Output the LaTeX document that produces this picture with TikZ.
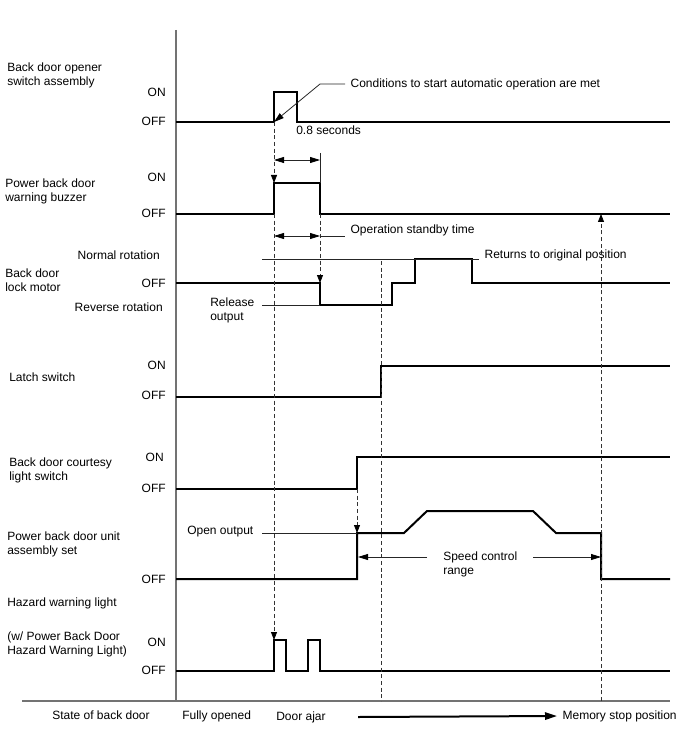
\documentclass[tikz,border=0pt]{standalone}
\usepackage{fontspec}
\setmainfont{Liberation Sans}
\usetikzlibrary{arrows.meta}
\begin{document}
\begin{tikzpicture}[x=0.75pt,y=-0.75pt,
  font=\fontsize{9}{10.5}\selectfont,
  sig/.style={line width=1.5pt, line join=miter},
  thinln/.style={line width=0.6pt, black!85},
  guide/.style={line width=0.6pt, black!80, dash pattern=on 3pt off 2pt},
  tipend/.style={-{Triangle[length=6pt,width=4.5pt,color=black]}},
  diment/.style={-{Triangle[length=7.5pt,width=4.5pt,color=black]}},
  tipboth/.style={{Triangle[length=7.5pt,width=4.5pt,color=black]}-{Triangle[length=7.5pt,width=4.5pt,color=black]}},
  lbl/.style={inner sep=0pt, anchor=west, align=left},
  lvl/.style={inner sep=0pt, anchor=east},
  ann/.style={inner ysep=0pt, inner xsep=4pt, anchor=west, align=left}]
\useasboundingbox (0,0) rectangle (688,755);

% axes
\draw[line width=0.8pt, black!55] (176,30) coordinate (axtop) -- (176,701) coordinate (axbot);
\draw[line width=0.8pt, black!55] (22,701) coordinate (blL) -- (670,701) coordinate (blR);

% left labels
\node[lbl] (l1) at (7,75.5) {Back door opener\\switch assembly};
\node[lbl] (l2) at (5,191) {Power back door\\warning buzzer};
\node[lbl] (l3) at (5,280) {Back door\\lock motor};
\node[lbl] (l4) at (9,377) {Latch switch};
\node[lbl] (l5) at (9,470) {Back door courtesy\\light switch};
\node[lbl] (l6) at (7,544) {Power back door unit\\assembly set};
\node[lbl] (l7) at (7,603) {Hazard warning light};
\node[lbl] (l8) at (7,644) {(w/ Power Back Door\\Hazard Warning Light)};
\node[lbl] (l9) at (52,715) {State of back door};

% level labels
\node[lvl] (on1) at (166,92) {ON};
\node[lvl] (off1) at (166,121) {OFF};
\node[lvl] (on2) at (166,177) {ON};
\node[lvl] (off2) at (166,213) {OFF};
\node[lvl] (nr) at (160,255) {Normal rotation};
\node[lvl] (off3) at (166,283) {OFF};
\node[lvl] (rr) at (163,307) {Reverse rotation};
\node[lvl] (on4) at (166,365) {ON};
\node[lvl] (off4) at (166,395) {OFF};
\node[lvl] (on5) at (164,457) {ON};
\node[lvl] (off5) at (166,488) {OFF};
\node[lvl] (off6) at (166,579) {OFF};
\node[lvl] (on7) at (166,642) {ON};
\node[lvl] (off7) at (166,670) {OFF};

% signals
\draw[sig] (176,122) -- (274,122) -- (274,92) -- (297,92) -- (297,122) -- (670,122);
\draw[sig] (176,214) -- (274,214) -- (274,183) -- (320,183) -- (320,214) -- (670,214);
\draw[sig] (176,283) -- (320,283) -- (320,305) -- (392,305) -- (392,283) -- (415,283) -- (415,259) -- (472,259) -- (472,283) -- (670,283);
\draw[sig] (176,397) -- (381,397) -- (381,366) -- (670,366);
\draw[sig] (176,489) -- (357,489) -- (357,457) -- (670,457);
\draw[sig] (176,579) -- (357,579) -- (357,533) -- (404,533) -- (427,511) -- (533,511) -- (556,533) -- (601,533) -- (601,579) -- (670,579);
\draw[sig] (176,671) -- (274,671) -- (274,640) -- (286,640) -- (286,671) -- (308,671) -- (308,640) -- (320,640) -- (320,671) -- (670,671);

% guide (dashed) lines
\draw[guide, tipend] (274,122) -- (274,183);
\draw[guide, tipend] (274,214) -- (274,640);
\draw[guide, tipend] (320,214) -- (320,283);
\draw[guide] (381,261) -- (381,701);
\draw[guide, tipend] (601,701) -- (601,214);
\draw[guide, tipend] (357,489) -- (357,533);

% annotations
\node[ann] (cond) at (345,84) {Conditions to start automatic operation are met};
\draw[thinln, diment] (cond.west) -- (320,84) -- (274,122);
\node[lbl] (sec) at (296,130) {0.8 seconds};

\draw[thinln, tipboth] (274,160) -- (320,160);
\draw[thinln] (320,153) -- (320,183);

\node[ann] (stby) at (345,230) {Operation standby time};
\draw[thinln, tipboth] (274,236) -- (320,236);
\draw[thinln] (320,236) -- (stby.west |- 0,236);

\node[ann] (ret) at (479,255) {Returns to original position};
\draw[thinln] (262,259) -- (ret.west |- 0,259);

\node[lbl] (rel) at (210,310) {Release\\output};
\draw[thinln] (262,305) -- (320,305);

\node[lbl] (open) at (187,532) {Open output};
\draw[thinln] (262,533) -- (357,533);

\node[lbl] (spd) at (443,564) {Speed control\\range};
\draw[thinln, diment] (427,557) -- (358,557);
\draw[thinln, diment] (533,557) -- (601,557);

% bottom states
\node[lbl] (fo) at (182,716) {Fully opened};
\node[lbl] (da) at (276,717) {Door ajar};
\node[ann] (msp) at (557,716) {Memory stop position};
\draw[line width=1.5pt, -{Triangle[length=9pt,width=5.5pt]}] (358,717) -- (msp.west);
\end{tikzpicture}
\end{document}
